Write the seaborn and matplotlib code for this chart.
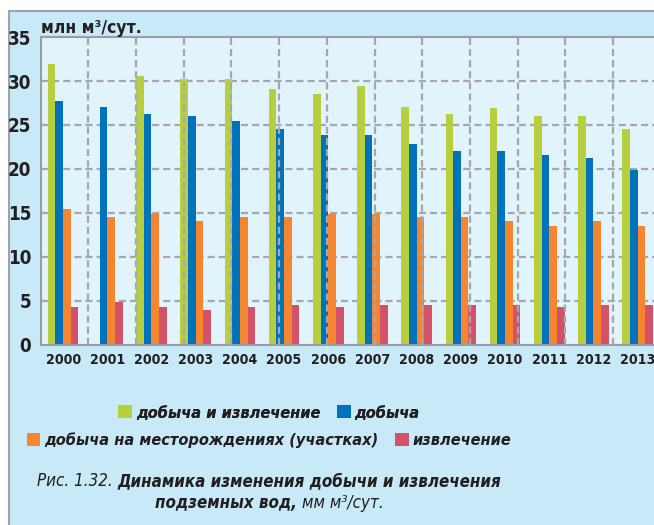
import numpy as np
import pandas as pd
import matplotlib
matplotlib.use("Agg")
import matplotlib.pyplot as plt
import seaborn as sns
from matplotlib import font_manager
from matplotlib.patches import Rectangle, Patch

years = ["2000", "2001", "2002", "2003", "2004", "2005", "2006",
         "2007", "2008", "2009", "2010", "2011", "2012", "2013"]
total = [31.9, np.nan, 30.6, 30.2, 30.2, 29.1, 28.5, 29.4, 27.0, 26.3, 26.9, 26.0, 26.0, 24.5]
production = [27.7, 27.0, 26.3, 26.0, 25.5, 24.5, 23.9, 23.9, 22.8, 22.0, 22.0, 21.6, 21.2, 19.9]
fields = [15.4, 14.5, 14.85, 14.1, 14.5, 14.5, 14.85, 14.85, 14.5, 14.5, 14.1, 13.5, 14.1, 13.5]
extraction = [4.3, 4.85, 4.3, 3.95, 4.3, 4.6, 4.3, 4.6, 4.6, 4.6, 4.6, 4.3, 4.6, 4.6]

series = ["добыча и извлечение", "добыча",
          "добыча на месторождениях (участках)", "извлечение"]
colors = ["#b7cf3e", "#0071bb", "#f5862f", "#d3526a"]

df = pd.DataFrame({"year": years * 4,
                   "value": total + production + fields + extraction,
                   "series": sum([[s] * len(years) for s in series], [])})

sns.set_style("white")
installed = {f.name for f in font_manager.fontManager.ttflist}
if "Liberation Sans Narrow" in installed:
    narrow = ["Liberation Sans Narrow", "DejaVu Sans"]
    stretch = "normal"
else:
    narrow = ["DejaVu Sans"]
    stretch = "condensed"
dark = "#231f20"
grid_c = "#a5a7ab"

fig = plt.figure(figsize=(6.54, 5.25), dpi=100)
fig.patch.set_facecolor("white")
# outer light blue panel
fig.patches.append(Rectangle((9 / 654, -0.01), 1, 514 / 525 + 0.01, transform=fig.transFigure,
                             facecolor="#c8e9f8", edgecolor="#a0a2a5", linewidth=1.5, zorder=-5))

ax = fig.add_axes([41 / 654, 180 / 525, 613 / 654, 308 / 525])
ax.set_zorder(2)
ax.set_facecolor("#e1f3fb")

sns.barplot(data=df, x="year", y="value", hue="series", hue_order=series,
            palette=colors, width=0.69, gap=0, errorbar=None, ax=ax,
            saturation=1, legend=False, zorder=2, linewidth=0, edgecolor="none")

ax.set_xlim(-0.5, 13.37)
ax.set_ylim(0, 35)
ax.set_yticks(range(0, 36, 5))
ax.set_xlabel("")
ax.set_ylabel("")

# horizontal grid behind bars
for v in range(5, 35, 5):
    ax.axhline(v, color=grid_c, lw=1.6, dashes=(3.2, 1.8), zorder=1)
# vertical grid drawn over bars (independent spacing)
for v in np.arange(0.572, 13.37, 1.079):
    ax.axvline(v, color=grid_c, lw=1.6, dashes=(3.2, 1.8), zorder=3)

for s in ["left", "bottom", "top"]:
    ax.spines[s].set_color("#9a9c9f")
    ax.spines[s].set_linewidth(1.5)
ax.spines["right"].set_visible(False)
ax.tick_params(axis="y", length=0, pad=7)
ax.tick_params(axis="x", length=0, pad=6)
for lab in ax.get_yticklabels():
    lab.set_fontfamily(narrow)
    lab.set_fontstretch(stretch)
    lab.set_fontsize(13.5)
    lab.set_fontweight("bold")
    lab.set_color(dark)
for lab in ax.get_xticklabels():
    lab.set_fontfamily(narrow)
    lab.set_fontstretch(stretch)
    lab.set_fontsize(10.2)
    lab.set_fontweight("bold")
    lab.set_color(dark)

fig.text(41 / 654, 1 - 33 / 525, "млн м³/сут.", fontsize=12.5, fontweight="bold",
         family=narrow, stretch=stretch, color=dark, ha="left", va="baseline")

# text block is centred left of the figure middle (the panel is cropped on the right)
cx = 269 / 654

def legend_row(labels, cols, y):
    handles = [Patch(facecolor=c, edgecolor="none") for c in cols]
    leg = fig.legend(handles, labels, loc="center", bbox_to_anchor=(cx, y), ncol=len(labels),
                     frameon=False, handlelength=0.85, handleheight=0.85, handletextpad=0.25,
                     columnspacing=1.0,
                     prop={"family": narrow, "size": 11.7, "style": "italic",
                           "weight": "bold", "stretch": stretch})
    for t in leg.get_texts():
        t.set_color(dark)
    return leg

l1 = legend_row(series[:2], colors[:2], 1 - 413 / 525)
l2 = legend_row(series[2:], colors[2:], 1 - 440 / 525)
fig.add_artist(l1)

# caption with mixed weights
fig.canvas.draw()
renderer = fig.canvas.get_renderer()

def rich_line(parts, y):
    texts = []
    for s, w in parts:
        texts.append(fig.text(0, y, s, fontsize=12.2, style="italic", weight=w,
                              family=narrow, stretch=stretch, color=dark,
                              va="center", ha="left"))
    widths = [t.get_window_extent(renderer).width / fig.bbox.width for t in texts]
    x = cx - sum(widths) / 2
    for t, w in zip(texts, widths):
        t.set_x(x)
        x += w

rich_line([("Рис. 1.32. ", "normal"), ("Динамика изменения добычи и извлечения", "bold")],
          1 - 481 / 525)
rich_line([("подземных вод, ", "bold"), ("мм м³/сут.", "normal")], 1 - 503 / 525)

fig.savefig("out.png", dpi=100)
